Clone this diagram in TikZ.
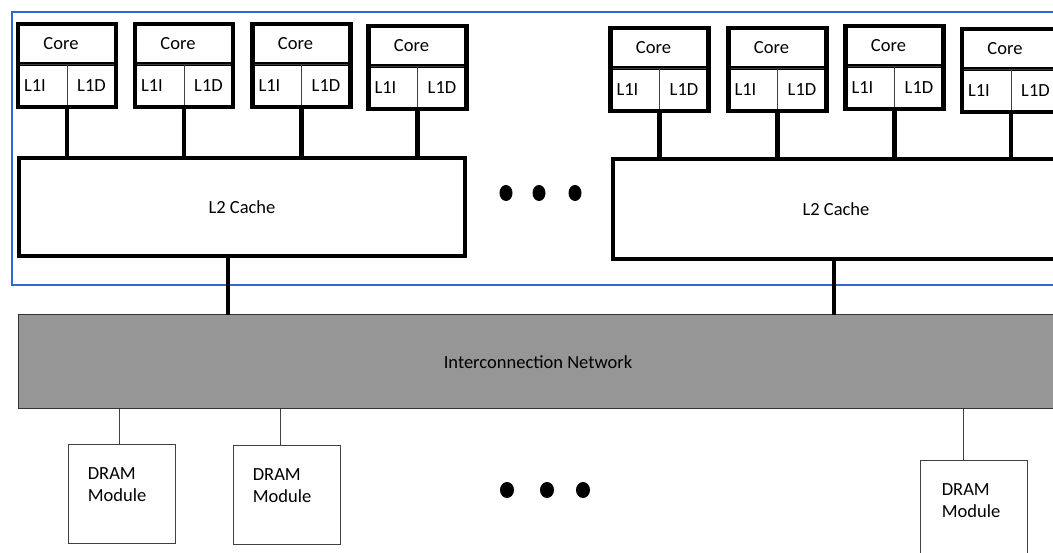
\documentclass[tikz,border=0pt]{standalone}
\usepackage{fontspec}
\setmainfont{Carlito}
\usetikzlibrary{positioning,calc}
\definecolor{frameblue}{RGB}{46,104,214}
\definecolor{netgray}{RGB}{150,150,150}

\begin{document}
\begin{tikzpicture}[x=1pt,y=-1pt,
every node/.style={font=\fontsize{18.5}{22}\selectfont, outer sep=0pt},
corebox/.style={rectangle, draw, line width=4.5pt, minimum width=98pt, minimum height=40pt},
l1box/.style={rectangle, draw=black!75, line width=0.8pt, minimum width=49pt, minimum height=43pt},
cachebox/.style={rectangle, draw, line width=4.5pt, minimum width=446pt},
netbox/.style={rectangle, draw=black!80, line width=1pt, fill=netgray, minimum width=1040pt, minimum height=94pt},
drambox/.style={rectangle, draw=black!75, line width=1pt, minimum width=107pt, minimum height=99pt},
dramtext/.style={align=left, anchor=north west},
tileframe/.style={line width=4.5pt},
bus/.style={line width=4.5pt},
link/.style={draw=black!75, line width=1pt},
]
\useasboundingbox (0,0) rectangle (1053,553);
\clip (0,0) rectangle (1053,553);

%Frame
\draw[frameblue, line width=2pt] (12,12) rectangle (1062,285);

%L2 caches
\node[cachebox, minimum height=98pt]  (l2a) at (242,207) {L2 Cache};
\node[cachebox, minimum height=100pt] (l2b) at (836,209) {L2 Cache};

%Cores
\foreach \n/\x/\y/\c in {1/67/24/a, 2/184/24/a, 3/301.5/24/a, 4/417.5/26/a,
                        5/659.5/28/b, 6/777.5/28/b, 7/894.5/26/b, 8/1011/29/b}{
  \node[corebox, anchor=north, label={[xshift=-6pt]center:Core}] (core\n) at (\x,\y) {};
  \node[l1box, anchor=north west, text width=37pt, align=left] (l1i\n) at (core\n.south west) {L1I};
  \node[l1box, anchor=north east] (l1d\n) at (core\n.south east) {L1D};
  \draw[tileframe] (core\n.north west) rectangle (l1d\n.south east);
  \draw[bus] (l1i\n.south east) -- (l1i\n.south east |- l2\c.north);
}

\fill (506,193) ellipse (6.5 and 8);
\fill (539,193) ellipse (6.5 and 8);
\fill (575,193) ellipse (6.5 and 8);

%Network
\node[netbox] (net) at (538,362) {Interconnection Network};
\draw[bus] ([xshift=-14pt]l2a.south) -- ([xshift=-14pt]l2a.south |- net.north);
\draw[bus] ([xshift=-2pt]l2b.south) -- ([xshift=-2pt]l2b.south |- net.north);

%DRAM
\node[drambox] (dram1) at (122,493.5) {};
\node[drambox] (dram2) at (287,494.5) {};
\node[drambox] (dram3) at (974,509.5) {};
\node[dramtext] (dram1txt) at ([xshift=16pt,yshift=-20pt]dram1.north west) {DRAM\\Module};
\node[dramtext] (dram2txt) at ([xshift=16pt,yshift=-20pt]dram2.north west) {DRAM\\Module};
\node[dramtext] (dram3txt) at ([xshift=18pt,yshift=-20pt]dram3.north west) {DRAM\\Module};
\draw[link] ([xshift=-3pt]dram1.north) -- ([xshift=-3pt]dram1.north |- net.south);
\draw[link] ([xshift=-7pt]dram2.north) -- ([xshift=-7pt]dram2.north |- net.south);
\draw[link] ([xshift=-11pt]dram3.north) -- ([xshift=-11pt]dram3.north |- net.south);

\fill (507,490) ellipse (7 and 8);
\fill (547,490) ellipse (7 and 8);
\fill (583,490) ellipse (7 and 8);
\end{tikzpicture}
\end{document}
